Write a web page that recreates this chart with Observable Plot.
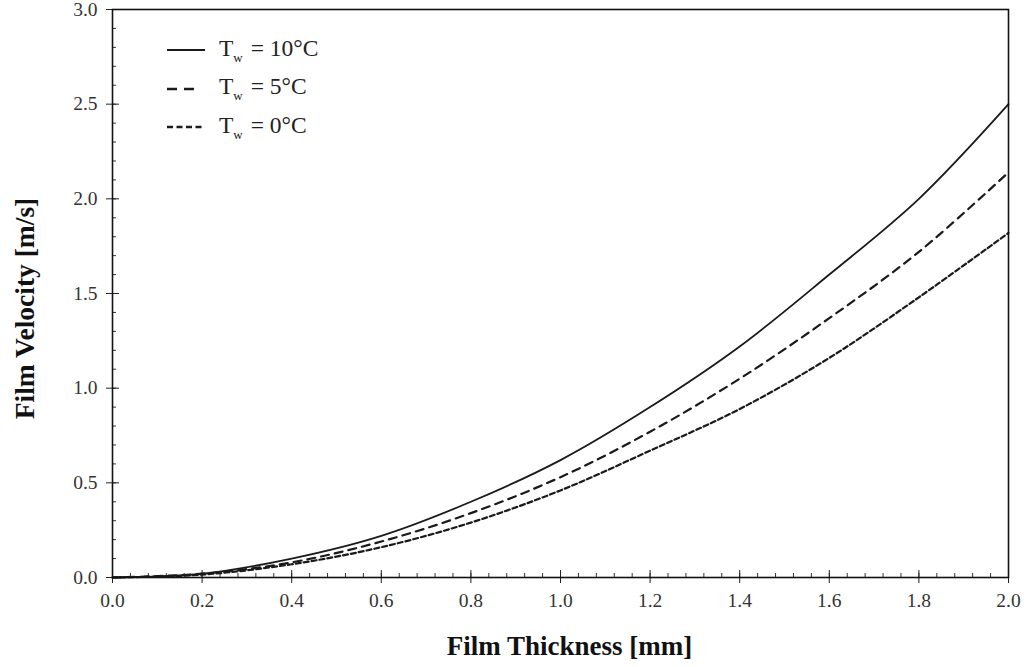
<!DOCTYPE html>
<html>
<head>
<meta charset="utf-8">
<script src="https://cdn.jsdelivr.net/npm/d3@7"></script>
<script src="https://cdn.jsdelivr.net/npm/@observablehq/plot@0.6"></script>
<style>
  html, body { margin: 0; padding: 0; background: #fff; }
  #wrap { position: relative; width: 1031px; height: 667px; font-family: "Liberation Serif", "DejaVu Serif", serif; }
  #legend { position: absolute; left: 167px; top: 31px; color: #222; font-size: 23.5px; }
  #legend .row { display: flex; align-items: center; height: 38.5px; }
  #legend svg { width: 38px; height: 10px; margin-right: 14px; }
  #legend sub { font-size: 13px; vertical-align: -6px; margin-right: 2px; }
</style>
</head>
<body>
<div id="wrap"></div>
<script>
// Data
const thickness = [0.0, 0.2, 0.4, 0.6, 0.8, 1.0, 1.2, 1.4, 1.6, 1.8, 2.0];
const vel10 = [0.0, 0.02, 0.10, 0.22, 0.40, 0.62, 0.90, 1.22, 1.60, 2.00, 2.50];
const vel5  = [0.0, 0.02, 0.08, 0.19, 0.34, 0.53, 0.77, 1.05, 1.37, 1.72, 2.14];
const vel0  = [0.0, 0.015, 0.07, 0.16, 0.29, 0.46, 0.67, 0.89, 1.16, 1.48, 1.82];
const legendLabels = ["10°C", "5°C", "0°C"];
const dashes = [null, "8,6", "5,3"];
const legendDashes = [null, "10,7", "6,3.5"];
const legendLengths = [38, 27, 38];
const xMajor = [0.0, 0.2, 0.4, 0.6, 0.8, 1.0, 1.2, 1.4, 1.6, 1.8, 2.0];
const yMajor = [0.0, 0.5, 1.0, 1.5, 2.0, 2.5, 3.0];
const xLabel = "Film Thickness [mm]";
const yLabel = "Film Velocity [m/s]";

const xMinor = d3.range(0, 51).map(i => i * 0.04);
const yMinor = d3.range(0, 31).map(i => i * 0.1);

const allSeries = [vel10, vel5, vel0];
const table = allSeries.map((vals, s) => thickness.map((t, i) => ({x: t, y: vals[i], s})));

const fmt = d3.format(".1f");
const chart = Plot.plot({
  width: 1031,
  height: 667,
  marginLeft: 112,
  marginRight: 23,
  marginTop: 9,
  marginBottom: 90,
  style: {fontFamily: "Liberation Serif, serif", background: "#fff", color: "#222"},
  x: {domain: [0, 2], label: null},
  y: {domain: [0, 3], label: null},
  marks: [
    // minor inside ticks
    Plot.axisX({ticks: xMinor, tickSize: 4, dy: -4, text: null, label: null, stroke: "#333"}),
    Plot.axisY({ticks: yMinor, tickSize: 4, dx: 4, text: null, label: null, stroke: "#333"}),
    // major ticks inside
    Plot.axisX({ticks: xMajor, tickSize: 7, dy: -7, text: null, label: null, stroke: "#222"}),
    Plot.axisY({ticks: yMajor, tickSize: 7, dx: 7, text: null, label: null, stroke: "#222"}),
    // major ticks outside with labels
    Plot.axisX({ticks: xMajor, tickSize: 6, tickPadding: 10, tickFormat: fmt, fontSize: 19.5, label: null, stroke: "#222", fill: "#333"}),
    Plot.axisY({ticks: yMajor, tickSize: 6, tickPadding: 9, tickFormat: fmt, fontSize: 19.5, label: null, stroke: "#222", fill: "#333"}),
    ...table.map((rows, s) => Plot.line(rows, {
      x: "x", y: "y",
      curve: "catmull-rom",
      stroke: "#1a1a1a",
      strokeWidth: s === 0 ? 1.8 : 2.2,
      strokeDasharray: dashes[s]
    })),
    Plot.frame({stroke: "#111", strokeWidth: 1.6}),
    Plot.text([xLabel], {frameAnchor: "bottom", dx: 9, dy: 77, fontSize: 27, fontWeight: "bold", fill: "#111"}),
    Plot.text([yLabel], {frameAnchor: "left", textAnchor: "middle", dx: -87, dy: 15, rotate: -90, fontSize: 27.5, fontWeight: "bold", fill: "#111"})
  ]
});

const wrap = document.getElementById("wrap");
wrap.appendChild(chart);

// Legend overlay
const legend = document.createElement("div");
legend.id = "legend";
legendLabels.forEach((lab, s) => {
  const row = document.createElement("div");
  row.className = "row";
  const dash = legendDashes[s] ? `stroke-dasharray="${legendDashes[s]}"` : "";
  row.innerHTML = `<svg viewBox="0 0 38 10"><line x1="0" y1="5" x2="${legendLengths[s]}" y2="5" stroke="#1a1a1a" stroke-width="${s === 0 ? 1.8 : 2.4}" ${dash}/></svg><span>T<sub>w</sub> = ${lab}</span>`;
  legend.appendChild(row);
});
wrap.appendChild(legend);
</script>
</body>
</html>
